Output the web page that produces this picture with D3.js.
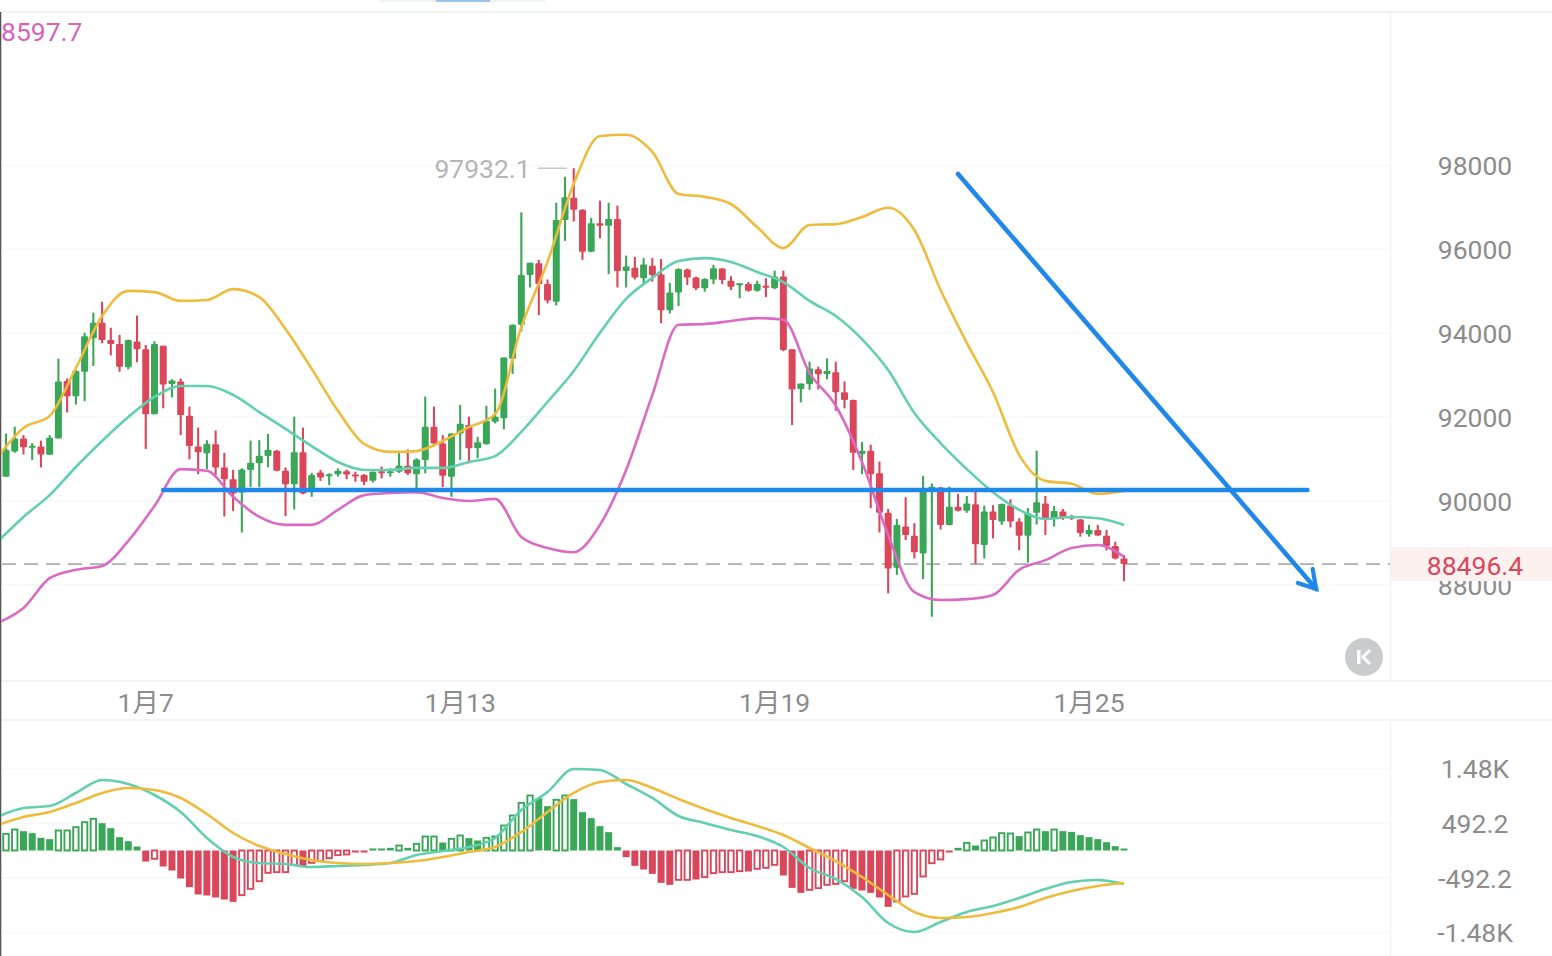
<!DOCTYPE html>
<html>
<head>
<meta charset="utf-8">
<script src="https://cdn.jsdelivr.net/npm/d3@7/dist/d3.min.js"></script>
<style>
  html, body { margin: 0; padding: 0; background: #fff; overflow: hidden; }
  text { font-family: Roboto, "Noto Sans CJK SC", sans-serif; }
</style>
</head>
<body>
<div id="chart"></div>
<script>
// 4h candles
const opens = [
  90580,91180,91490,91300,91300,91100,91490,92860,92500,93080,
  93880,94250,93840,93740,93190,93800,93620,92070,93700,92790,
  92850,92030,91300,91140,91350,90800,90520,90200,90740,90900,
  91070,91200,90720,90400,91160,90280,90680,90620,90640,90710,
  90630,90620,90480,90710,90660,90700,90840,90640,90980,91770,
  91370,90580,91610,91810,91260,91360,91890,91970,93390,94200,
  95390,95670,95170,94750,96700,97230,96940,95940,96620,96560,
  96720,95480,95560,95310,95610,95400,94550,94970,95520,95330,
  95070,95280,95540,95250,95170,95170,95010,95130,95070,95350,
  93620,92670,92790,93140,93030,93070,92590,92410,91120,91200,
  90660,89720,88410,89390,89170,88750,90250,90320,89430,89860,
  89770,89920,88950,89750,89510,89890,89510,89170,89720,89940,
  89570,89750,89630,89560,89210,89310,89170,88930,88630
];
const highs = [
  91610,91770,91570,91380,91440,91570,93390,92920,93120,94010,
  94490,94750,94130,93960,93850,94420,93720,93810,93700,92900,
  92920,92250,91750,91450,91680,91150,90740,90780,91440,91450,
  91600,91220,90800,92010,91750,90670,90740,90660,90780,90750,
  90700,90640,90700,90820,90780,91150,91230,91020,92490,92250,
  91570,91610,92290,92010,91530,92270,92680,93420,94210,96880,
  95680,95750,95280,97110,97730,97932.1,96960,96750,97160,97110,
  97040,95850,95820,95790,95790,95770,95200,95550,95540,95350,
  95310,95630,95550,95360,95190,95220,95250,95310,95490,95490,
  93620,92800,93320,93200,93400,93320,92850,92420,91410,91340,
  90940,89810,89570,90090,89470,90600,90420,90340,90340,90170,
  90120,90300,89890,89900,89940,90040,89590,89830,91200,90120,
  89880,89810,89670,89570,89430,89430,89310,89030,88710
];
const lows = [
  90580,91150,91110,90980,90800,91100,91490,92110,92300,92380,
  93220,93760,93470,93080,93140,93310,91240,92070,92210,92470,
  91570,90990,90640,90760,90620,89630,89760,89250,90330,90330,
  90800,90710,89640,89800,90160,90100,90480,90380,90580,90520,
  90460,90380,90440,90540,90580,90670,90620,90180,90660,91360,
  90330,90100,90980,90900,91020,91340,91850,91710,93030,94040,
  95090,94430,94710,94660,96200,96660,95750,95930,96260,95410,
  95090,95090,95280,95190,95230,94240,94470,94650,95150,95030,
  94990,95170,95170,95030,94830,94990,94990,94860,95050,93570,
  91810,92350,92650,92660,92900,92150,92210,90740,90640,89830,
  89250,87800,88240,89070,88630,88140,87240,89320,89420,89750,
  89720,88500,88630,89110,89430,89370,88830,88530,89440,89190,
  89390,89550,89550,89150,89150,89170,88820,88610,88090
];
const closes = [
  91220,91490,91280,91320,91110,91510,92850,92500,93100,93930,
  94250,93840,93740,93200,93840,93620,92070,93740,92780,92870,
  92050,91310,91160,91360,90800,90520,90180,90750,90910,91080,
  91220,90720,90400,91160,90180,90620,90560,90640,90720,90630,
  90600,90460,90700,90680,90710,90840,90660,90990,91770,91370,
  90600,91610,91840,91260,91400,91910,92010,93420,94200,95390,
  95680,95170,94780,96700,97240,96940,95940,96620,96560,96720,
  95480,95590,95330,95640,95390,94550,94970,95530,95330,95070,
  95290,95550,95270,95110,95190,95010,95170,95090,95350,93600,
  92660,92800,93160,93020,93100,92590,92410,91150,91200,90640,
  89720,88390,89430,89190,88780,90300,90340,89430,89860,89770,
  89940,88970,89750,89550,89930,89510,89170,89710,89970,89570,
  89760,89610,89580,89240,89310,89180,88930,88630,88496.4
];

// Bollinger bands and MACD lines, read every third candle
const lineIdx = d3.range(-1, 129, 3);
const bollUpper = [
  91030,91740,92030,93170,94410,95010,94980,94770,94790,95050,94860,
  94100,93150,92150,91360,91170,91190,91430,91760,92070,94150,95700,
  97560,98700,98730,98320,97320,97250,97080,96530,96030,96580,96600,
  96770,96990,96460,95030,93770,92600,91100,90480,90410,90170,90240
];
const bollMid = [
  89020,89620,90140,90810,91430,92000,92480,92740,92740,92530,92120,
  91720,91310,90930,90740,90740,90790,90790,90930,91070,91650,92360,
  93100,94010,94820,95320,95720,95790,95700,95460,95220,94770,94410,
  93860,93120,92100,91380,90760,90210,89790,89570,89620,89590,89430
];
const bollLower = [
  87090,87450,88160,88360,88450,89050,89880,90760,90720,90100,89620,
  89430,89430,89790,90140,90190,90210,90070,90000,90050,89140,88880,
  88780,89430,90740,92530,94200,94220,94290,94360,94320,93050,92270,
  90930,89190,87830,87640,87660,87760,88360,88590,88880,88950,88670
];
const macdDif = [
  605,767,803,1038,1273,1200,1002,695,226,-117,-226,
  -244,-298,-280,-262,-226,-81,-9,63,226,731,1056,
  1471,1453,1200,948,623,496,370,262,63,-316,-514,
  -839,-1309,-1471,-1291,-1110,-1002,-857,-695,-569,-532,-605
];
const macdDea = [
  460,605,695,857,1038,1128,1092,948,659,316,81,
  -63,-171,-226,-244,-226,-190,-117,-27,63,334,695,
  1038,1236,1273,1128,930,749,587,442,280,45,-190,
  -478,-803,-1110,-1218,-1200,-1128,-1020,-857,-731,-641,-587
];
const macdHist = [
  301,379,349,313,229,205,361,361,421,511,
  572,493,403,241,168,72,-199,-150,-289,-361,
  -505,-662,-794,-812,-848,-885,-927,-806,-692,-554,
  -403,-391,-391,-259,-289,-223,-193,-138,-84,-72,
  -36,-24,12,18,48,90,48,120,253,253,
  144,211,271,223,181,229,253,451,632,860,
  993,945,800,915,993,927,692,584,439,331,
  60,-120,-277,-343,-421,-584,-620,-530,-530,-523,
  -481,-409,-391,-391,-373,-379,-331,-313,-259,-451,
  -674,-764,-710,-680,-620,-602,-554,-692,-722,-764,
  -848,-1017,-921,-830,-782,-469,-229,-162,-24,48,
  138,90,181,235,313,307,259,325,379,349,
  379,349,337,277,241,205,150,78,24
];
const macdHollow = [
  0,1,6,7,8,9,10,17,27,28,29,30,31,32,33,35,36,37,38,39,45,47,48,49,51,52,
  55,56,57,58,59,60,63,64,77,78,80,81,82,83,84,86,87,88,92,93,94,95,96,
  102,103,104,105,106,107,110,112,113,114,115,117,118,120
];

// axis labels
const priceTicks = [98000, 96000, 94000, 92000, 90000, 88000];
const macdTicks = [1480, 492.2, -492.2, -1480];
const macdTickLabels = ["1.48K", "492.2", "-492.2", "-1.48K"];
const dateIdx = [16, 52, 88, 124];
const dateLabels = ["1月7", "1月13", "1月19", "1月25"];

// drawn annotations, in candle index and price
const lastPrice = 88496.4;
const highPrice = 97932.1;
const flatLineIdx = [18, 149];
const flatLinePrice = 90262;
const arrowIdx = [109, 150];
const arrowPrice = [97796, 87902];
const arrowBarbIdx = [147.9, 149.6];
const arrowBarbPrice = [88045, 88380];

const width = 1552, height = 956;
const green = "#3aa658", red = "#da465a", gridColor = "#f6f7f8", axisText = "#8c8c8c";

const svg = d3.select("#chart").append("svg")
    .attr("width", width)
    .attr("height", height)
    .style("display", "block");

const x = d3.scaleLinear().domain([0, 128]).range([6, 1124]);
const y = d3.scaleLinear().domain([88000, 98000]).range([584.9, 165.4]);
const yMacd = d3.scaleLinear().domain([-1480, 1480]).range([932.5, 768.5]);

// frame
const frame = svg.append("g").attr("stroke", "#eef0f1").attr("stroke-width", 1.5);
[12, 681, 720].forEach(v => frame.append("line").attr("x1", 0).attr("x2", width).attr("y1", v).attr("y2", v));
frame.append("line").attr("x1", 1390.5).attr("x2", 1390.5).attr("y1", 12).attr("y2", 681);
frame.append("line").attr("x1", 1390.5).attr("x2", 1390.5).attr("y1", 720).attr("y2", height);
svg.append("line").attr("x1", 0.5).attr("x2", 0.5).attr("y1", 12).attr("y2", height)
    .attr("stroke", "#555").attr("stroke-width", 1.6);

// scrap of the tab strip at the top edge
svg.append("rect").attr("x", 380).attr("y", 0).attr("width", 165).attr("height", 2).attr("fill", "#eef2f5");
svg.append("rect").attr("x", 436).attr("y", 0).attr("width", 54).attr("height", 2).attr("fill", "#9cc4ea");

// grid
svg.append("g").selectAll("line").data(priceTicks).join("line")
    .attr("x1", 2).attr("x2", 1390)
    .attr("y1", d => y(d)).attr("y2", d => y(d))
    .attr("stroke", gridColor).attr("stroke-width", 1.5);
svg.append("g").selectAll("line").data(macdTicks).join("line")
    .attr("x1", 2).attr("x2", 1390)
    .attr("y1", d => yMacd(d)).attr("y2", d => yMacd(d))
    .attr("stroke", gridColor).attr("stroke-width", 1.5);

// axes
function styleAxis(g) {
    g.select(".domain").remove();
    g.selectAll("text").attr("fill", axisText).attr("font-size", 26.5).attr("text-anchor", "middle");
}
svg.append("g")
    .attr("transform", "translate(1475,1)")
    .call(d3.axisRight(y).tickValues(priceTicks).tickSize(0).tickPadding(0).tickFormat(d3.format("d")))
    .call(styleAxis);
svg.append("g")
    .attr("transform", "translate(1475,1)")
    .call(d3.axisRight(yMacd).tickValues(macdTicks).tickSize(0).tickPadding(0)
        .tickFormat((d, i) => macdTickLabels[i]))
    .call(styleAxis);
svg.append("g")
    .attr("transform", "translate(-0.5,693)")
    .call(d3.axisBottom(x).tickValues(dateIdx).tickSize(0).tickPadding(0)
        .tickFormat((d, i) => dateLabels[i]))
    .call(styleAxis);

// last price line and tag
svg.append("line")
    .attr("x1", 2).attr("x2", 1390)
    .attr("y1", y(lastPrice)).attr("y2", y(lastPrice))
    .attr("stroke", "#aeaeae").attr("stroke-width", 1.8).attr("stroke-dasharray", "14,8");
svg.append("rect")
    .attr("x", 1391).attr("y", y(lastPrice) - 17)
    .attr("width", 161).attr("height", 34)
    .attr("fill", "#fdf1ef");
svg.append("text")
    .attr("x", 1475).attr("y", y(lastPrice) + 1)
    .attr("text-anchor", "middle").attr("dominant-baseline", "central")
    .attr("font-size", 26.5).attr("fill", red)
    .text(lastPrice);

// candles
const idx = d3.range(opens.length);
const candleColor = i => closes[i] >= opens[i] ? green : red;
const candles = svg.append("g");
candles.selectAll("line").data(idx).join("line")
    .attr("x1", i => x(i)).attr("x2", i => x(i))
    .attr("y1", i => y(highs[i])).attr("y2", i => y(lows[i]))
    .attr("stroke", candleColor).attr("stroke-width", 2.1);
candles.selectAll("rect").data(idx).join("rect")
    .attr("x", i => x(i) - 3.5)
    .attr("width", 7)
    .attr("y", i => y(Math.max(opens[i], closes[i])))
    .attr("height", i => Math.max(2, Math.abs(y(opens[i]) - y(closes[i]))))
    .attr("rx", 1)
    .attr("fill", candleColor);

// bollinger lines
const clip = svg.append("clipPath").attr("id", "plot-clip").append("rect")
    .attr("x", 1).attr("y", 0).attr("width", 1389).attr("height", height);

function drawLine(values, scale, color) {
    const line = d3.line()
        .x((d, i) => x(lineIdx[i]))
        .y(d => scale(d))
        .curve(d3.curveMonotoneX);
    svg.append("path")
        .attr("clip-path", "url(#plot-clip)")
        .attr("d", line(values))
        .attr("fill", "none")
        .attr("stroke", color)
        .attr("stroke-width", 2.6);
}
drawLine(bollLower, y, "#da6bc3");
drawLine(bollMid, y, "#62cfb1");
drawLine(bollUpper, y, "#eebc3d");

// high marker
svg.append("line")
    .attr("x1", x(65) - 36).attr("x2", x(65) - 7)
    .attr("y1", y(highPrice)).attr("y2", y(highPrice))
    .attr("stroke", "#c4c4c4").attr("stroke-width", 1.5);
svg.append("text")
    .attr("x", x(65) - 43).attr("y", y(highPrice))
    .attr("text-anchor", "end").attr("dominant-baseline", "central")
    .attr("font-size", 26.5).attr("fill", "#b5b5b5")
    .text(highPrice);

// upper band value clipped at the left edge
svg.append("text")
    .attr("x", 1).attr("y", 31)
    .attr("dominant-baseline", "central")
    .attr("font-size", 26.5).attr("fill", "#d862b8")
    .text("8597.7");

// hand drawn lines
const blue = "#1f88e8";
const annot = svg.append("g").attr("stroke", blue).attr("fill", "none").attr("stroke-linecap", "round");
annot.append("line")
    .attr("x1", x(flatLineIdx[0])).attr("x2", x(flatLineIdx[1]))
    .attr("y1", y(flatLinePrice)).attr("y2", y(flatLinePrice))
    .attr("stroke-width", 4.6);
annot.append("line")
    .attr("x1", x(arrowIdx[0])).attr("x2", x(arrowIdx[1]))
    .attr("y1", y(arrowPrice[0])).attr("y2", y(arrowPrice[1]))
    .attr("stroke-width", 4.6);
annot.append("polyline")
    .attr("points", [
        [x(arrowBarbIdx[0]), y(arrowBarbPrice[0])],
        [x(arrowIdx[1]), y(arrowPrice[1])],
        [x(arrowBarbIdx[1]), y(arrowBarbPrice[1])]
    ].join(" "))
    .attr("stroke-width", 4.2);

// back-to-latest button
const btn = svg.append("g").attr("transform", "translate(1364,657)");
btn.append("circle").attr("r", 19).attr("fill", "#c9cbcd");
btn.append("rect").attr("x", -7).attr("y", -7).attr("width", 3.5).attr("height", 14).attr("fill", "#fff");
btn.append("polyline").attr("points", "6,-7 -1,0 6,7")
    .attr("fill", "none").attr("stroke", "#fff").attr("stroke-width", 3);

// macd histogram
const zero = yMacd(0);
const macdGroup = svg.append("g");
macdGroup.selectAll("rect").data(idx).join("rect")
    .each(function (i) {
        const v = macdHist[i];
        const hollow = macdHollow.includes(i);
        const color = v >= 0 ? green : red;
        const h = Math.max(2, Math.abs(yMacd(v) - zero));
        d3.select(this)
            .attr("x", x(i) - (hollow ? 2.7 : 3.5))
            .attr("width", hollow ? 5.4 : 7)
            .attr("y", v >= 0 ? zero - h : zero)
            .attr("height", h)
            .attr("fill", hollow ? "#fff" : color)
            .attr("stroke", hollow ? color : "none")
            .attr("stroke-width", hollow ? 1.9 : 0);
    });

drawLine(macdDif, yMacd, "#62cfb1");
drawLine(macdDea, yMacd, "#eebc3d");
</script>
</body>
</html>
